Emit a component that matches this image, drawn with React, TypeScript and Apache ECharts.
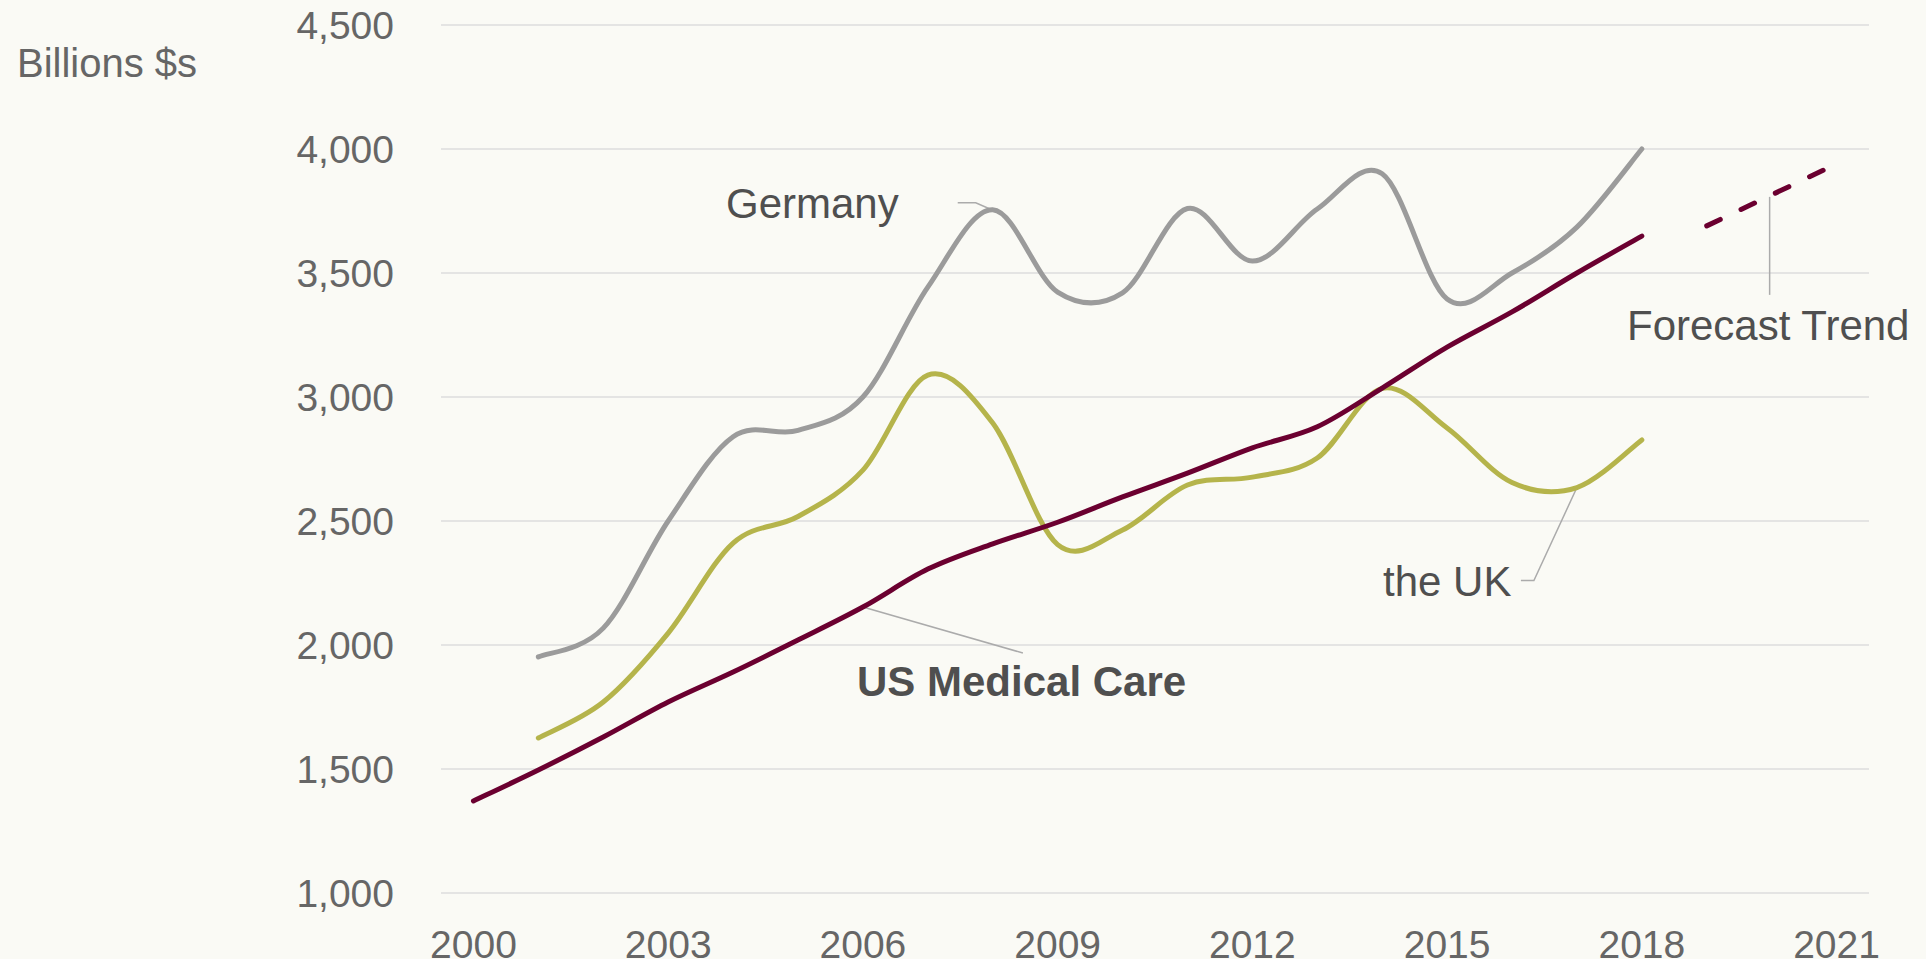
import React, { useEffect, useRef } from "react";
import * as echarts from "echarts";

const years = [
  "2000", "2001", "2002", "2003", "2004", "2005", "2006", "2007", "2008", "2009", "2010",
  "2011", "2012", "2013", "2014", "2015", "2016", "2017", "2018", "2019", "2020", "2021",
];
const usMedicalCare = [
  1371, 1496, 1629, 1770, 1891, 2020, 2153, 2306, 2408, 2495, 2597, 2693, 2795, 2880, 3036,
  3201, 3343, 3500, 3649, null, null, null,
];
const forecastTrend = [
  null, null, null, null, null, null, null, null, null, null, null, null, null, null, null,
  null, null, null, null, 3690, 3815, 3940,
];
const germany = [
  null, 1952, 2068, 2500, 2840, 2865, 3000, 3443, 3755, 3423, 3420, 3760, 3548, 3758, 3900,
  3395, 3500, 3685, 4000, null, null, null,
];
const theUK = [
  null, 1625, 1770, 2048, 2411, 2518, 2705, 3088, 2895, 2405, 2464, 2645, 2677, 2754, 3035,
  2875, 2655, 2635, 2827, null, null, null,
];
const yMin = 1000;
const yMax = 4500;
const yStep = 500;
const yAxisTitle = "Billions $s";
const labelTexts = {
  us: "US Medical Care",
  germany: "Germany",
  uk: "the UK",
  forecast: "Forecast Trend",
};

const FONT = '"Liberation Sans", Arial, Helvetica, sans-serif';
const MAROON = "#6b0030";
const GREY = "#9b9b9b";
const OLIVE = "#b5b44b";
const LABEL = "#4f4f4f";
const TICK = "#666666";
const LEADER = "#ababab";
const LINE_W = 5;

// Excel-like smoothed curve (Catmull-Rom with 1/6 tension) through pixel points
function smoothPath(pts: number[][]): string {
  if (!pts.length) return "";
  let d = `M${pts[0][0]},${pts[0][1]}`;
  const t = 1 / 6;
  for (let i = 0; i < pts.length - 1; i++) {
    const p0 = pts[i - 1] || pts[i];
    const p1 = pts[i];
    const p2 = pts[i + 1];
    const p3 = pts[i + 2] || p2;
    const c1x = p1[0] + (p2[0] - p0[0]) * t;
    const c1y = p1[1] + (p2[1] - p0[1]) * t;
    const c2x = p2[0] - (p3[0] - p1[0]) * t;
    const c2y = p2[1] - (p3[1] - p1[1]) * t;
    d += ` C${c1x},${c1y} ${c2x},${c2y} ${p2[0]},${p2[1]}`;
  }
  return d;
}

function curveSeries(name: string, values: (number | null)[], color: string) {
  const data: number[][] = [];
  values.forEach((v, i) => {
    if (v !== null) data.push([i, v]);
  });
  return {
    name,
    type: "custom",
    coordinateSystem: "cartesian2d",
    clip: false,
    encode: { x: 0, y: 1 },
    data,
    z: 3,
    renderItem: (params: any, api: any) => {
      if (params.dataIndex !== 0) return null;
      const pts = data.map((d) => api.coord(d));
      return {
        type: "path",
        silent: true,
        shape: { pathData: smoothPath(pts) },
        style: {
          fill: "none",
          stroke: color,
          lineWidth: LINE_W,
          lineCap: "round",
          lineJoin: "round",
        },
      };
    },
  };
}

export default function App() {
  const ref = useRef<HTMLDivElement>(null);

  useEffect(() => {
    if (!ref.current) return;
    const chart = echarts.init(ref.current, null, { renderer: "svg" });

    chart.setOption({
      animation: false,
      backgroundColor: "#fafaf5",
      grid: {
        left: 441,
        right: 57,
        top: 25,
        bottom: 66,
        containLabel: false,
        outerBoundsMode: "none",
      },
      xAxis: {
        type: "category",
        data: years,
        boundaryGap: true,
        axisLine: { show: false },
        axisTick: { show: false },
        axisLabel: {
          interval: 2,
          margin: 42,
          lineHeight: 18,
          color: TICK,
          fontSize: 39,
          fontFamily: FONT,
        },
      },
      yAxis: {
        type: "value",
        min: yMin,
        max: yMax,
        interval: yStep,
        axisLine: { show: false },
        axisTick: { show: false },
        axisLabel: {
          margin: 47,
          color: TICK,
          fontSize: 39,
          fontFamily: FONT,
          formatter: (v: number) => v.toLocaleString("en-US"),
        },
        splitLine: { lineStyle: { color: "#dcdcdc", width: 1.5 } },
      },
      series: [
        curveSeries("Germany", germany, GREY),
        curveSeries("the UK", theUK, OLIVE),
        curveSeries("US Medical Care", usMedicalCare, MAROON),
        {
          name: "Forecast Trend",
          type: "line",
          data: forecastTrend,
          symbol: "none",
          lineStyle: {
            color: MAROON,
            width: LINE_W,
            cap: "round",
            type: [15, 23],
          },
          z: 3,
        },
      ],
    });

    const px = (idx: number, val: number | null) =>
      chart.convertToPixel({ gridIndex: 0 }, [idx, val as number]) as number[];

    const gPt = px(8, germany[8]);
    const usPt = px(6, usMedicalCare[6]);
    const ukPt = px(17, theUK[17]);
    const fPt = px(20, forecastTrend[20]);

    const txt = (text: string, x: number, y: number, size: number, bold = false, color = LABEL) => ({
      type: "text",
      x,
      y,
      silent: true,
      style: {
        text,
        fill: color,
        fontSize: size,
        fontFamily: FONT,
        fontWeight: bold ? "bold" : "normal",
        align: "left",
        verticalAlign: "middle",
      },
      z: 10,
    });
    const leader = (points: number[][]) => ({
      type: "polyline",
      silent: true,
      shape: { points },
      style: { stroke: LEADER, lineWidth: 1.5, fill: "none" },
      z: 2,
    });

    chart.setOption({
      graphic: [
        txt(yAxisTitle, 17, 63, 40, false, TICK),
        txt(labelTexts.germany, 726, 203, 42),
        leader([
          [gPt[0] - 35, gPt[1] - 7],
          [gPt[0] - 17, gPt[1] - 7],
          [gPt[0] - 1, gPt[1]],
        ]),
        txt(labelTexts.us, 857, 681, 42, true),
        leader([
          [usPt[0], usPt[1]],
          [usPt[0] + 160, usPt[1] + 46],
        ]),
        txt(labelTexts.uk, 1383, 581, 42),
        leader([
          [ukPt[0], ukPt[1]],
          [ukPt[0] - 43, ukPt[1] + 93],
          [ukPt[0] - 56, ukPt[1] + 93],
        ]),
        txt(labelTexts.forecast, 1627, 325, 42),
        leader([
          [fPt[0] - 2, fPt[1] + 2],
          [fPt[0] - 2, fPt[1] + 100],
        ]),
      ],
    });

    return () => chart.dispose();
  }, []);

  return (
    <div
      ref={ref}
      style={{ position: "fixed", left: 0, top: 0, width: 1926, height: 959 }}
    />
  );
}
